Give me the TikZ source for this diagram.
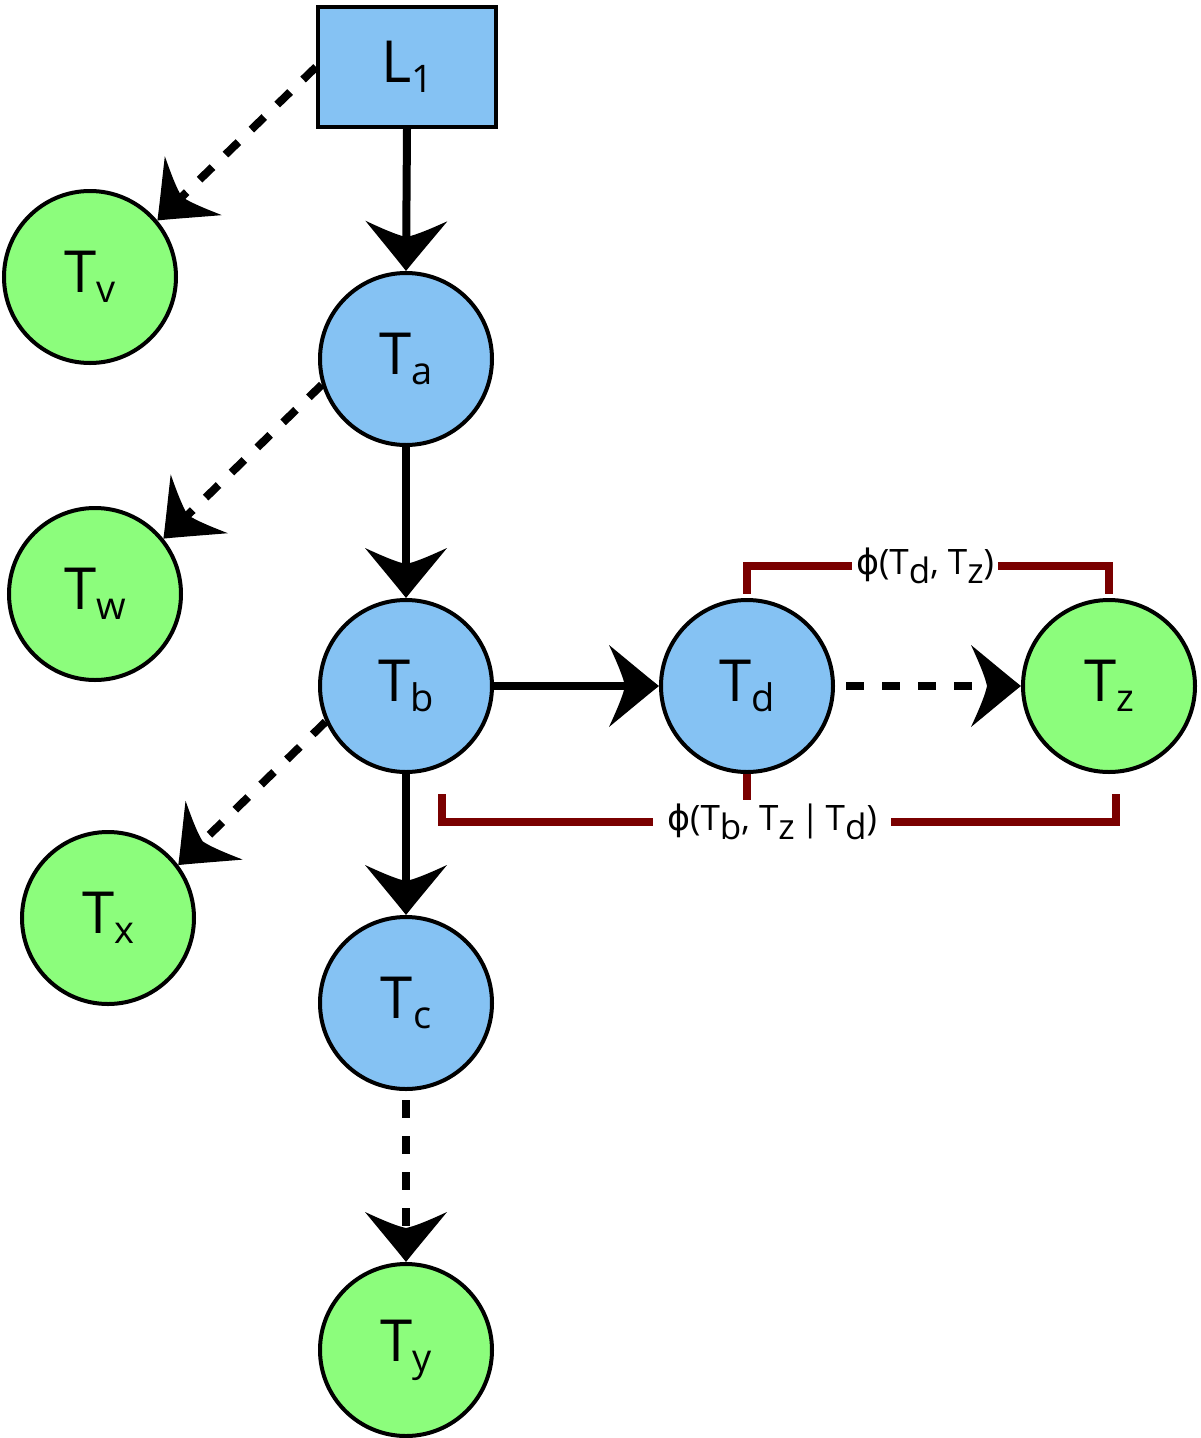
\documentclass[tikz,border=0pt]{standalone}
\usepackage{fontspec}
\setmainfont{Open Sans}
\newfontfamily\phifont{DejaVu Sans}
\usetikzlibrary{arrows.meta}
\definecolor{nodeblue}{RGB}{133,194,243}
\definecolor{nodegreen}{RGB}{140,253,124}
\definecolor{bracketred}{RGB}{122,0,0}
\newcommand{\nsub}[1]{\raisebox{-10pt}{\fontsize{38}{40}\selectfont #1}}
\newcommand{\lsub}[1]{\raisebox{-9pt}{#1}}
\pgfdeclarearrow{
  name = Swept,
  parameters = {\the\pgfarrowlength,\the\pgfarrowwidth},
  setup code = {
    \pgfarrowssettipend{0pt}
    \pgfarrowssetbackend{-\pgfarrowlength}
    \pgfarrowssetlineend{-.55\pgfarrowlength}
    \pgfarrowssetvisualbackend{-.65\pgfarrowlength}
    \pgfarrowshullpoint{0pt}{0pt}
    \pgfarrowshullpoint{-\pgfarrowlength}{.5\pgfarrowwidth}
    \pgfarrowshullpoint{-\pgfarrowlength}{-.5\pgfarrowwidth}
    \pgfarrowssavethe\pgfarrowlength
    \pgfarrowssavethe\pgfarrowwidth
  },
  drawing code = {
    \pgfpathmoveto{\pgfqpoint{0pt}{0pt}}
    \pgfpathcurveto{\pgfqpoint{-.25\pgfarrowlength}{.12\pgfarrowwidth}}{\pgfqpoint{-.6\pgfarrowlength}{.3\pgfarrowwidth}}{\pgfqpoint{-\pgfarrowlength}{.5\pgfarrowwidth}}
    \pgfpathcurveto{\pgfqpoint{-.85\pgfarrowlength}{.3\pgfarrowwidth}}{\pgfqpoint{-.72\pgfarrowlength}{.12\pgfarrowwidth}}{\pgfqpoint{-.68\pgfarrowlength}{0pt}}
    \pgfpathcurveto{\pgfqpoint{-.72\pgfarrowlength}{-.12\pgfarrowwidth}}{\pgfqpoint{-.85\pgfarrowlength}{-.3\pgfarrowwidth}}{\pgfqpoint{-\pgfarrowlength}{-.5\pgfarrowwidth}}
    \pgfpathcurveto{\pgfqpoint{-.6\pgfarrowlength}{-.3\pgfarrowwidth}}{\pgfqpoint{-.25\pgfarrowlength}{-.12\pgfarrowwidth}}{\pgfqpoint{0pt}{0pt}}
    \pgfpathclose
    \pgfusepathqfill
  },
  defaults = {length = 50pt, width = 82pt}
}
\begin{document}
\begin{tikzpicture}[x=1pt,y=-1pt,
  tnode/.style={circle, draw=black, line width=4pt, minimum size=172pt, inner sep=0pt, font=\fontsize{58}{68}\selectfont},
  bluenode/.style={tnode, fill=nodeblue},
  greennode/.style={tnode, fill=nodegreen},
  boxnode/.style={rectangle, draw=black, line width=4pt, fill=nodeblue, minimum width=178pt, minimum height=120pt, inner sep=0pt, font=\fontsize{58}{68}\selectfont},
  solidedge/.style={line width=8pt, -{Swept}},
  dashededge/.style={solidedge, dash pattern=on 18pt off 18pt},
  bracket/.style={draw=bracketred, line width=8pt},
  lab/.style={inner ysep=0pt, font=\fontsize{35}{40}\selectfont}
]
\useasboundingbox (0,0) rectangle (1200,1438);
\node[boxnode] (L1) at (407,67) {L\nsub{1}};
\node[greennode] (Tv) at (90,277) {T\nsub{v}};
\node[bluenode] (Ta) at (406,359) {T\nsub{a}};
\node[greennode] (Tw) at (95,594) {T\nsub{w}};
\node[bluenode] (Tb) at (406,686) {T\nsub{b}};
\node[bluenode] (Td) at (747,686) {T\nsub{d}};
\node[greennode] (Tz) at (1109,686) {T\nsub{z}};
\node[greennode] (Tx) at (108,918) {T\nsub{x}};
\node[bluenode] (Tc) at (406,1003) {T\nsub{c}};
\node[greennode] (Ty) at (406,1350) {T\nsub{y}};

\draw[solidedge] (L1.south) -- (Ta.north);
\draw[dashededge] (L1.west) -- (Tv.40);
\draw[solidedge] (Ta.south) -- (Tb.north);
\draw[dashededge] (Ta.197) -- (Tw.39);
\draw[solidedge] (Tb.east) -- (Td.west);
\draw[dashededge] (Tb.204) -- (Tx.37);
\draw[solidedge] (Tb.south) -- (Tc.north);
\draw[dashededge, shorten <=11pt] (Td.east) -- (Tz.west);
\draw[dashededge, shorten <=9pt] (Tc.south) -- (Ty.north);

\node[lab, inner xsep=4pt] (phi1) at (925,566) {{\phifont ϕ}(T\lsub{d}, T\lsub{z})};
\coordinate (tl) at (747,594);
\coordinate (tr) at (1109,594);
\draw[bracket] (phi1.west) -| (tl);
\draw[bracket] (phi1.east) -| (tr);

\node[lab, inner xsep=14pt] (phi2) at (772,822) {{\phifont ϕ}(T\lsub{b}, T\lsub{z}\,|\,T\lsub{d})};
\coordinate (bl) at (442,794);
\coordinate (br) at (1116,794);
\coordinate (tk) at (747,800);
\draw[bracket] (phi2.west) -| (bl);
\draw[bracket] (phi2.east) -| (br);
\draw[bracket] (Td.south) -- (tk);
\end{tikzpicture}
\end{document}
